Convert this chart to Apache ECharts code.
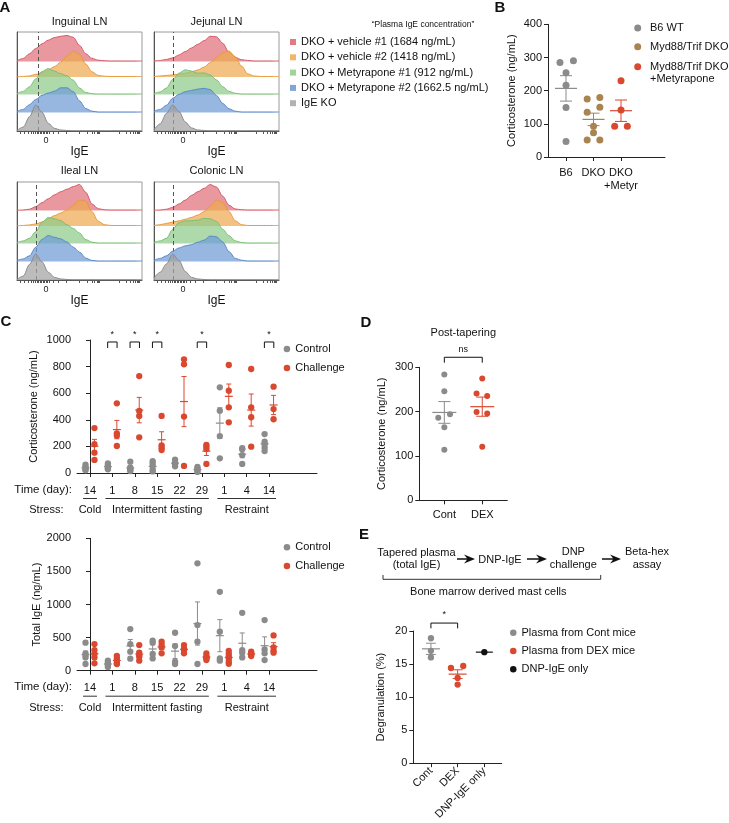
<!DOCTYPE html>
<html><head><meta charset="utf-8">
<script src="https://cdn.jsdelivr.net/npm/echarts@6/dist/echarts.min.js"></script>
<style>html,body{margin:0;padding:0;background:#fff}#c{width:729px;height:823px}</style>
</head><body><div id="c"></div>
<script>
const FF = '"Liberation Sans", Arial, Helvetica, sans-serif';

// ---------- Panel A: IgE histograms (x = % of display range, y = normalised density) ----------
const histX = [0,5,10,15,20,25,30,35,40,45,50,55,60,65,70,75,80,85,90,95,100];
const histSamples = ['DKO + vehicle #1 (1684 ng/mL)','DKO + vehicle #2 (1418 ng/mL)','DKO + Metyrapone #1 (912 ng/mL)','DKO + Metyrapone #2 (1662.5 ng/mL)','IgE KO'];
const lymphNodes = ['Inguinal LN','Jejunal LN','Ileal LN','Colonic LN'];
const inguinal = [
  [0.03,0.12,0.3,0.5,0.68,0.82,0.92,0.97,1.0,0.93,0.62,0.3,0.12,0.05,0.03,0.02,0.02,0.02,0.02,0.02,0.02],
  [0.01,0.02,0.04,0.1,0.17,0.27,0.4,0.57,0.8,1.0,0.88,0.5,0.2,0.06,0.03,0.02,0.02,0.02,0.02,0.02,0.02],
  [0.04,0.12,0.3,0.6,0.88,1.0,0.9,0.8,0.72,0.55,0.25,0.08,0.03,0.02,0.02,0.02,0.02,0.02,0.02,0.02,0.02],
  [0.04,0.12,0.3,0.5,0.66,0.75,0.82,0.95,0.95,0.8,0.45,0.15,0.05,0.02,0.02,0.02,0.02,0.02,0.02,0.02,0.02],
  [0.02,0.15,0.55,1.0,0.72,0.3,0.1,0.04,0.02,0.01,0.01,0.01,0.01,0.01,0.01,0.01,0.01,0.01,0.01,0.01,0.01]
];
const jejunal = [
  [0.02,0.04,0.08,0.14,0.25,0.38,0.52,0.66,0.8,0.97,0.95,0.7,0.35,0.16,0.07,0.04,0.02,0.02,0.02,0.02,0.02],
  [0.02,0.04,0.06,0.08,0.11,0.15,0.2,0.27,0.38,0.55,0.75,0.93,1.0,0.78,0.42,0.12,0.04,0.02,0.02,0.02,0.02],
  [0.03,0.1,0.25,0.58,0.82,0.95,0.9,0.82,0.83,0.75,0.56,0.3,0.12,0.05,0.02,0.02,0.02,0.02,0.02,0.02,0.02],
  [0.05,0.12,0.28,0.55,0.7,0.8,0.85,0.9,0.93,0.88,0.65,0.35,0.14,0.05,0.02,0.02,0.02,0.02,0.02,0.02,0.02],
  [0.05,0.28,0.68,1.0,0.75,0.35,0.12,0.04,0.02,0.01,0.01,0.01,0.01,0.01,0.01,0.01,0.01,0.01,0.01,0.01,0.01]
];
const ileal = [
  [0.01,0.02,0.05,0.15,0.3,0.45,0.6,0.72,0.82,0.92,1.0,0.7,0.25,0.07,0.03,0.02,0.02,0.02,0.02,0.02,0.02],
  [0.01,0.02,0.04,0.08,0.15,0.28,0.4,0.5,0.62,0.8,1.0,0.95,0.55,0.18,0.05,0.02,0.02,0.02,0.02,0.02,0.02],
  [0.03,0.1,0.2,0.45,0.82,1.0,0.95,0.88,0.72,0.58,0.4,0.15,0.05,0.02,0.02,0.02,0.02,0.02,0.02,0.02,0.02],
  [0.04,0.1,0.22,0.55,0.85,1.0,0.93,0.87,0.75,0.55,0.36,0.13,0.04,0.02,0.02,0.02,0.02,0.02,0.02,0.02,0.02],
  [0.02,0.15,0.6,1.0,0.7,0.3,0.1,0.04,0.02,0.01,0.01,0.01,0.01,0.01,0.01,0.01,0.01,0.01,0.01,0.01,0.01]
];
const colonic = [
  [0.01,0.02,0.05,0.12,0.25,0.4,0.58,0.72,0.85,1.0,0.9,0.55,0.2,0.06,0.03,0.02,0.02,0.02,0.02,0.02,0.02],
  [0.02,0.05,0.1,0.15,0.2,0.26,0.33,0.42,0.55,0.77,1.0,0.9,0.55,0.2,0.05,0.02,0.02,0.02,0.02,0.02,0.02],
  [0.04,0.1,0.2,0.55,0.8,0.87,0.88,0.9,0.97,0.95,0.85,0.55,0.3,0.1,0.04,0.02,0.02,0.02,0.02,0.02,0.02],
  [0.05,0.12,0.22,0.4,0.52,0.6,0.65,0.74,0.82,0.98,0.95,0.75,0.38,0.12,0.05,0.02,0.02,0.02,0.02,0.02,0.02],
  [0.08,0.3,0.62,1.0,0.75,0.33,0.1,0.04,0.02,0.01,0.01,0.01,0.01,0.01,0.01,0.01,0.01,0.01,0.01,0.01,0.01]
];
const gateLine = [17.3, 15.5, 15.2, 15.0];
const igeZero = 23.2;
const igeTicks = [2.7,6,9,11,12.8,14.4,16,17.3,18.4,19.5,20.8,21.9,23,24,26,28.8,33,39.5,50,56,60,62,64,65,66,82,87.5,90.7,93,94.4,96,97,98];

// ---------- Panel B ----------
const bGroups = ['B6','DKO','DKO\n+Metyr'];
const bNames = ['B6 WT','Myd88/Trif DKO','Myd88/Trif DKO +Metyrapone'];
const bB6 = [285,290,254,216,149,47];
const bDKO = [175,179,135,150,93,73,51,51];
const bMetyr = [230,142,93,93];
const bB6Jit = [-0.22,0.27,0,0,0,0];
const bDKOJit = [-0.23,0.23,-0.23,0.23,0,0,-0.23,0.23];
const bMetyrJit = [0,0,-0.23,0.23];

// ---------- Panel C ----------
const cDays = ['14','1','8','15','22','29','1','4','14'];
const cStress = ['Cold','Intermittent fasting','Restraint'];
const cStressSpan = [[0,0],[1,5],[6,8]];
const corticoControl = [[62,48,38,28,20],[72,58,45,35,28],[85,42,30,22,15],[90,72,50,25,12],[100,80,65,50],[45,35,25,15,8],[644,468,278,110],[186,178,135,68],[293,235,216,190,165]];
const corticoChallenge = [[338,216,153,98],[524,298,281,203],[729,466,429,268],[429,208,190,173],[855,817,424,53],[212,198,180,68],[812,619,494,381],[782,494,419,198],[649,481,404]];
const corticoSig = [1,2,3,5,8];
const igeControl = [[423,262,230,201,101],[150,120,100,80,55],[629,402,287,181],[453,423,252,186],[573,372,136,101],[1622,689,438,101],[1192,588,186,151],[875,312,272,201],[765,322,262,161]];
const igeChallenge = [[402,312,255,201,111],[225,190,150,110,100],[387,272,235,211,151],[438,387,352,262],[387,330,312,262],[262,221,200,186,161],[300,255,220,186,136,105],[287,265,252,240,221],[533,352,300,272]];

// ---------- Panel D ----------
const dGroups = ['Cont','DEX'];
const dCont = [284,246,186,194,165,114];
const dDex = [275,241,235,199,196,121];
const dContJit = [0,0,-0.16,0.15,0,0];
const dDexJit = [0,-0.15,0.13,-0.15,0.13,0];

// ---------- Panel E ----------
const eGroups = ['Cont','DEX','DNP-IgE only'];
const eNames = ['Plasma from Cont mice','Plasma from DEX mice','DNP-IgE only'];
const eCont = [18.9,17.0,16.0];
const eDex = [14.4,14.7,12.9,11.9];
const eDnp = [16.8];
const eDexJit = [-0.25,0.21,0,0];

// ---------- styling ----------
const GRAY = '#8b8b8b', RED = '#d9482f', BROWN = '#a98451', BLACK = '#111';
const ridgeLine = ['#d65a66','#e99a3a','#7cbf76','#5a8acb','#8a8a8a'];
const ridgeFill = ['#df7079','#eeaa52','#8fcb89','#6f9bd6','#a2a2a2'];
const ridgeLegend = ['#e27a83','#efb865','#9fd49a','#80a6d8','#b2b2b2'];
const ridgeOffset = [69.5, 54, 36.5, 18.5, 0];
const AMP = 26;

function meanSem(a){
  const n=a.length, m=a.reduce((s,v)=>s+v,0)/n;
  if(n<2) return [m,0];
  const sd=Math.sqrt(a.reduce((s,v)=>s+(v-m)*(v-m),0)/(n-1));
  return [m, sd/Math.sqrt(n)];
}

const grids = [
  {left:17, top:32, width:125, height:99},
  {left:154, top:32, width:125, height:99},
  {left:17, top:182, width:125, height:98},
  {left:154, top:182, width:125, height:98},
  {left:548, top:24.3, width:117, height:132.7},
  {left:77, top:340, width:240, height:133},
  {left:77, top:538.3, width:240, height:132.4},
  {left:419.3, top:367.3, width:88, height:133},
  {left:413.3, top:631, width:88.4, height:133}
].map((g,i)=>Object.assign({containLabel:false, show:i<4, borderColor:'#9a9a9a', borderWidth:1}, g));

const xAxes = [], yAxes = [], series = [];
const histSets = [inguinal, jejunal, ileal, colonic];

// Panel A axes + series
for (let g=0; g<4; g++){
  xAxes.push({type:'value', gridIndex:g, min:0, max:100, position:'bottom',
    axisLine:{show:true, onZero:false, lineStyle:{color:'#555'}},
    axisTick:{show:true, customValues:igeTicks, length:3, lineStyle:{color:'#555'}},
    axisLabel:{show:true, customValues:[igeZero], formatter:()=> '0', fontSize:9, margin:5, color:'#222'},
    splitLine:{show:false},
    name:'IgE', nameLocation:'middle', nameGap:9, nameTextStyle:{fontSize:12, color:'#111', verticalAlign:'top'}});
  const H = grids[g].height;
  for (let k=0; k<5; k++){
    yAxes.push({type:'value', gridIndex:g, min:-ridgeOffset[k], max:H-ridgeOffset[k], show:k===4, position:'left',
      axisLine:{show:true, onZero:false, lineStyle:{color:'#555'}}, axisTick:{show:false}, axisLabel:{show:false}, splitLine:{show:false}});
    const s = {type:'line', name:histSamples[k], xAxisIndex:g, yAxisIndex:g*5+k,
      data: histX.map((x,i)=>[x, histSets[g][k][i]*AMP]),
      smooth:0.3, smoothMonotone:'x', symbol:'none', silent:true, z:2+k,
      itemStyle:{color:ridgeLegend[k]}, lineStyle:{color:ridgeLine[k], width:1},
      areaStyle:{color:ridgeFill[k], opacity:0.72, origin:'auto'}};
    if (k===4){
      s.markLine = {silent:true, symbol:['none','none'], label:{show:false},
        lineStyle:{type:[4,3], color:'#555', width:1}, data:[{xAxis:gateLine[g]}]};
    }
    series.push(s);
  }
}
const YB=20, YC1=21, YC2=22, YD=23, YE=24;

function yVal(gi, min, max, interval, name, nameGap){
  return {type:'value', gridIndex:gi, min, max, interval, name, nameLocation:'middle', nameGap, nameRotate:90,
    nameTextStyle:{fontSize:11, color:'#111'},
    axisLine:{show:true, lineStyle:{color:'#222', width:1}},
    axisTick:{show:true, length:4, lineStyle:{color:'#222'}},
    axisLabel:{fontSize:11, color:'#111', margin:6, formatter:(v)=>String(v)},
    splitLine:{show:false}};
}
function xCat(gi, min, max, labels, first, margin, rotate, showLabels){
  const ticks = labels.map((_,i)=>first+i);
  return {type:'value', gridIndex:gi, min, max,
    axisLine:{show:true, onZero:false, lineStyle:{color:'#222', width:1}},
    axisTick:{show:true, customValues:ticks, length:4, lineStyle:{color:'#222'}},
    axisLabel:{show:showLabels!==false, customValues:ticks, hideOverlap:false, interval:0, showMinLabel:true, showMaxLabel:true,
      formatter:(v)=>labels[Math.round(v)-first], fontSize:11, color:'#111', margin, lineHeight:13, rotate:rotate||0},
    splitLine:{show:false}};
}
xAxes.push(xCat(4, 0.345, 4.6, bGroups, 1, 9, 0, false));
xAxes.push(xCat(5, -0.58, 10.14, cDays, 0, 11));
xAxes.push(xCat(6, -0.58, 10.14, cDays, 0, 11));
xAxes.push(xCat(7, 0.34, 2.66, dGroups, 1, 8.5));
xAxes.push(xCat(8, 0.34, 3.65, eGroups, 1, 6, 45));
yAxes.push(yVal(4, 0, 400, 100, 'Corticosterone (ng/mL)', 31));
yAxes.push(yVal(5, 0, 1000, 200, 'Corticosterone (ng/mL)', 38));
yAxes.push(yVal(6, 0, 2000, 500, 'Total IgE (ng/mL)', 33.5));
yAxes.push(yVal(7, 0, 300, 100, 'Corticosterone (ng/mL)', 32));
yAxes.push(yVal(8, 0, 20, 5, 'Degranulation (%)', 27));

function scatter(name, xi, yi, pts, color, size){
  return {type:'scatter', name, xAxisIndex:xi, yAxisIndex:yi, data:pts, symbolSize:size||6.5,
    itemStyle:{color, opacity:1}, silent:true, z:3};
}
function semSeries(xi, yi, items, color, halfW, capW){
  return {type:'custom', xAxisIndex:xi, yAxisIndex:yi, silent:true, clip:false, z:4, data:items,
    renderItem(p, api){
      const x=api.value(0), m=api.value(1), s=api.value(2);
      const c=api.coord([x,m]);
      const ch=[{type:'line', shape:{x1:c[0]-halfW,y1:c[1],x2:c[0]+halfW,y2:c[1]}, style:{stroke:color, lineWidth:1.2}}];
      if (s>0){
        const t=api.coord([x,m+s]), b=api.coord([x,m-s]);
        ch.push({type:'line', shape:{x1:c[0],y1:t[1],x2:c[0],y2:b[1]}, style:{stroke:color, lineWidth:1}});
        ch.push({type:'line', shape:{x1:c[0]-capW,y1:t[1],x2:c[0]+capW,y2:t[1]}, style:{stroke:color, lineWidth:1}});
        ch.push({type:'line', shape:{x1:c[0]-capW,y1:b[1],x2:c[0]+capW,y2:b[1]}, style:{stroke:color, lineWidth:1}});
      }
      return {type:'group', children:ch};
    }};
}
function bracketSeries(xi, yi, pairs, yTop, yLeg, label, labelY, fontSize){
  return {type:'custom', xAxisIndex:xi, yAxisIndex:yi, silent:true, clip:false, z:5, data:pairs,
    renderItem(p, api){
      const a=api.coord([api.value(0), yTop]), b=api.coord([api.value(1), yTop]);
      const l=api.coord([api.value(0), yLeg]);
      const t=api.coord([(api.value(0)+api.value(1))/2, labelY]);
      return {type:'group', children:[
        {type:'polyline', shape:{points:[[a[0],l[1]],a,b,[b[0],l[1]]]}, style:{stroke:'#111', lineWidth:1, fill:null}},
        {type:'text', style:{text:label, x:t[0], y:t[1], align:'center', verticalAlign:'middle', fontSize, fill:'#111', fontFamily:FF}}
      ]};
    }};
}
function stressSeries(xi, yi){
  return {type:'custom', xAxisIndex:xi, yAxisIndex:yi, silent:true, clip:false, z:5, data:cStressSpan,
    renderItem(p, api){
      const a=api.coord([api.value(0)-0.31, 0]), b=api.coord([api.value(1)+0.31, 0]);
      const y=a[1];
      return {type:'group', children:[
        {type:'line', shape:{x1:a[0],y1:y+25.5,x2:b[0],y2:y+25.5}, style:{stroke:'#333', lineWidth:1}},
        {type:'text', style:{text:cStress[p.dataIndex], x:(a[0]+b[0])/2, y:y+37, align:'center', verticalAlign:'middle', fontSize:11, fill:'#111', fontFamily:FF}}
      ]};
    }};
}
// category labels of panel B drawn at the axis ticks (avoids automatic overlap hiding)
function groupLabelSeries(xi, yi, labels, first, offset){
  return {type:'custom', xAxisIndex:xi, yAxisIndex:yi, silent:true, clip:false, z:5,
    data: labels.map((_,i)=>[first+i, 0]),
    renderItem(p, api){
      const c=api.coord([api.value(0), 0]);
      return {type:'text', style:{text:labels[p.dataIndex], x:c[0], y:c[1]+offset, align:'center', verticalAlign:'top',
        fontSize:11, lineHeight:13, fill:'#111', fontFamily:FF}};
    }};
}

// Panel B series
const bSets = [[bB6,bB6Jit,GRAY],[bDKO,bDKOJit,BROWN],[bMetyr,bMetyrJit,RED]];
bSets.forEach((s,i)=>{
  series.push(scatter(bNames[i], 4, YB, s[0].map((v,j)=>[i+1+s[1][j], v]), s[2], 7));
  const ms = meanSem(s[0]);
  series.push(semSeries(4, YB, [[i+1, ms[0], ms[1]]], s[2], 11, 6));
});
series.push(groupLabelSeries(4, YB, bGroups, 1, 9.5));

// Panel C series
function cPanel(xi, yi, ctrl, chal){
  series.push(scatter('Control', xi, yi, ctrl.flatMap((g,i)=>g.map(v=>[i-0.2, v])), GRAY, 6.3));
  series.push(scatter('Challenge', xi, yi, chal.flatMap((g,i)=>g.map(v=>[i+0.2, v])), RED, 6.3));
  series.push(semSeries(xi, yi, ctrl.map((g,i)=>{const m=meanSem(g); return [i-0.2, m[0], m[1]];}), GRAY, 4, 2.5));
  series.push(semSeries(xi, yi, chal.map((g,i)=>{const m=meanSem(g); return [i+0.2, m[0], m[1]];}), RED, 4, 2.5));
  series.push(stressSeries(xi, yi));
}
cPanel(5, YC1, corticoControl, corticoChallenge);
cPanel(6, YC2, igeControl, igeChallenge);
series.push(bracketSeries(5, YC1, corticoSig.map(i=>[i-0.21, i+0.21]), 985, 940, '*', 1040, 9));

// Panel D series
series.push(scatter('Cont (D)', 7, YD, dCont.map((v,j)=>[1+dContJit[j], v]), GRAY, 6));
series.push(scatter('DEX (D)', 7, YD, dDex.map((v,j)=>[2+dDexJit[j], v]), RED, 6));
{const a=meanSem(dCont), b=meanSem(dDex);
 series.push(semSeries(7, YD, [[1,a[0],a[1]]], GRAY, 12, 6));
 series.push(semSeries(7, YD, [[2,b[0],b[1]]], RED, 12, 6));}
series.push(bracketSeries(7, YD, [[1,2]], 322.6, 310.4, 'ns', 341, 9));

// Panel E series
series.push(scatter(eNames[0], 8, YE, eCont.map(v=>[1, v]), GRAY, 6.3));
series.push(scatter(eNames[1], 8, YE, eDex.map((v,j)=>[2+eDexJit[j], v]), RED, 6.3));
series.push(scatter(eNames[2], 8, YE, eDnp.map(v=>[3, v]), BLACK, 6.3));
{const a=meanSem(eCont), b=meanSem(eDex), c=meanSem(eDnp);
 series.push(semSeries(8, YE, [[1,a[0],a[1]]], GRAY, 9, 5));
 series.push(semSeries(8, YE, [[2,b[0],b[1]]], RED, 9, 5));
 series.push(semSeries(8, YE, [[3,c[0],c[1]]], BLACK, 8.5, 5));}
series.push(bracketSeries(8, YE, [[1,2]], 21.2, 20.4, '*', 22.5, 9));

// ---------- graphic annotations ----------
const T = (text, x, y, o) => ({type:'text', x, y, silent:true, z:10,
  style:Object.assign({text, fill:'#111', fontSize:11, fontFamily:FF, align:'center', verticalAlign:'middle'}, o||{})});
function arrow(x1, x2, y){
  return {type:'polygon', silent:true, shape:{points:[[x1,y-0.8],[x2-8,y-0.8],[x2-11,y-4.5],[x2,y],[x2-11,y+4.5],[x2-8,y+0.8],[x1,y+0.8]]}, style:{fill:'#111'}};
}
const B = {fontSize:15, fontWeight:'bold'};
const graphic = [
  T('A', 5, 8, B), T('B', 500, 8, B), T('C', 6, 322, B), T('D', 366, 323, B), T('E', 364, 535, B),
  T(lymphNodes[0], 79.5, 22), T(lymphNodes[1], 216.5, 22), T(lymphNodes[2], 79.5, 171), T(lymphNodes[3], 216.5, 171),
  T('\u201CPlasma IgE concentration\u201D', 423, 25, {fontSize:8.5}),
  {type:'circle', silent:true, shape:{cx:637.7, cy:28, r:3.5}, style:{fill:GRAY}},
  {type:'circle', silent:true, shape:{cx:637.7, cy:46.7, r:3.5}, style:{fill:BROWN}},
  {type:'circle', silent:true, shape:{cx:637.7, cy:66.7, r:3.5}, style:{fill:RED}},
  T('B6 WT', 650, 28, {align:'left'}), T('Myd88/Trif DKO', 650, 46.7, {align:'left'}),
  T('Myd88/Trif DKO', 650, 66.7, {align:'left'}), T('+Metyrapone', 650, 79, {align:'left'}),
  T('Time (day):', 72, 490, {align:'right', fontSize:11.5}), T('Stress:', 63.5, 510, {align:'right'}),
  T('Time (day):', 72, 687.3, {align:'right', fontSize:11.5}), T('Stress:', 63.5, 707.7, {align:'right'}),
  T('Post-tapering', 463.3, 333.3),
  T('Tapered plasma', 416.5, 553.3), T('(total IgE)', 416.5, 565),
  T('DNP-IgE', 500, 559.5), T('DNP', 573.3, 552.3), T('challenge', 573.3, 564.5),
  T('Beta-hex', 647, 552.3), T('assay', 647, 564.5),
  arrow(457, 475, 559), arrow(527, 547, 559), arrow(602, 621, 559),
  {type:'polyline', silent:true, shape:{points:[[383,575],[383,579.3],[600.7,579.3],[600.7,575]]}, style:{stroke:'#333', lineWidth:1, fill:null}},
  T('Bone marrow derived mast cells', 488.3, 591.7)
];

const legendText = {fontSize:11, color:'#111', lineHeight:14, fontFamily:FF};
const option = {
  animation:false,
  backgroundColor:'#fff',
  textStyle:{fontFamily:FF},
  grid:grids, xAxis:xAxes, yAxis:yAxes, series, graphic,
  legend:[
    {data:histSamples, left:290, top:35.5, orient:'vertical', icon:'rect', itemWidth:6, itemHeight:6, itemGap:2.3, padding:0, selectedMode:false,
      textStyle:Object.assign({}, legendText, {lineHeight:13})},
    {data:['Control','Challenge'], left:283.7, top:342, orient:'vertical', icon:'circle', itemWidth:6.5, itemHeight:6.5, itemGap:5, padding:0, selectedMode:false, textStyle:legendText},
    {data:['Control','Challenge'], left:283.7, top:540.3, orient:'vertical', icon:'circle', itemWidth:6.5, itemHeight:6.5, itemGap:4.7, padding:0, selectedMode:false, textStyle:legendText},
    {data:eNames, left:510, top:625.7, orient:'vertical', icon:'circle', itemWidth:6.5, itemHeight:6.5, itemGap:4.3, padding:0, selectedMode:false, textStyle:legendText}
  ]
};
const chart = echarts.init(document.getElementById('c'), null, {renderer:'canvas', width:729, height:823});
chart.setOption(option);
</script></body></html>
